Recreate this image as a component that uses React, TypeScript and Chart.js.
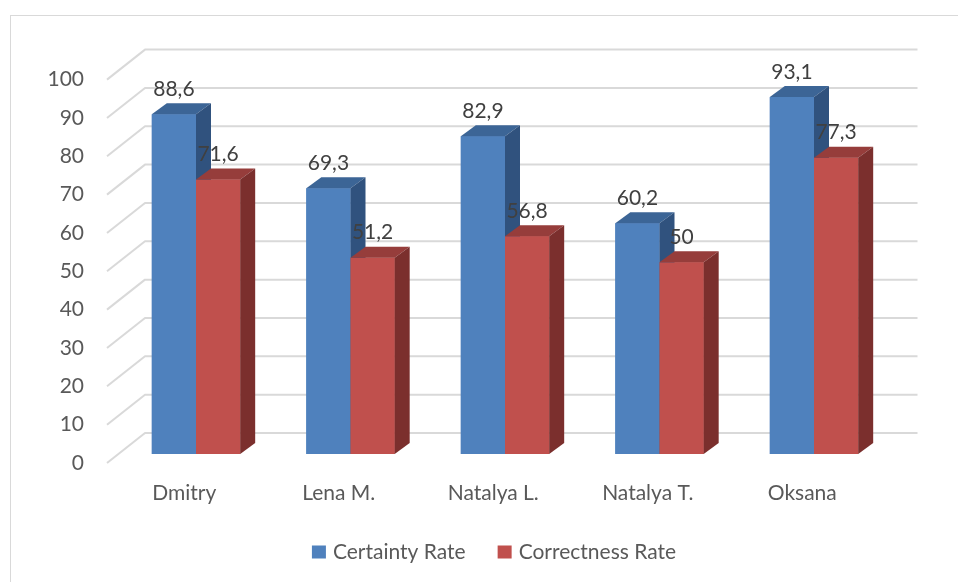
import { useEffect, useRef } from 'react';
import { Chart, registerables } from 'chart.js';

Chart.register(...registerables);

const categories = ['Dmitry', 'Lena M.', 'Natalya L.', 'Natalya T.', 'Oksana'];
const certaintyRate = [88.6, 69.3, 82.9, 60.2, 93.1];
const correctnessRate = [71.6, 51.2, 56.8, 50, 77.3];
const seriesNames = ['Certainty Rate', 'Correctness Rate'];
const yMin = 0;
const yMax = 100;
const yStep = 10;

const FONT = 'Lato, "Open Sans", "Noto Sans", sans-serif';
const FONT_SIZE = 21;
const AXIS_TEXT = '#595959';
const LABEL_TEXT = '#404040';
const GRID = '#D9D9D9';
const FRONT = ['#4F81BD', '#C0504D'];
const TOP = ['#3C6596', '#963D3B'];
const SIDE = ['#30527E', '#7B2F2D'];

// 3D geometry (oblique projection offsets)
const DEPTH_DX = 15;
const DEPTH_DY = 11;
const FRONT_DX = 11.75;
const FRONT_DY = 9;
const BACK_DX = 26.25;
const BACK_DY = 21;

const fmt = (v: number) => String(v).replace('.', ',');

const threeD = {
  id: 'threeD',
  beforeDraw(chart: any) {
    const ctx = chart.ctx;
    ctx.save();
    ctx.fillStyle = '#ffffff';
    ctx.fillRect(0, 0, chart.width, chart.height);
    ctx.strokeStyle = GRID;
    ctx.lineWidth = 1;
    ctx.strokeRect(10.5, 15.5, chart.width + 40, chart.height + 40);
    ctx.restore();
  },
  beforeDatasetsDraw(chart: any) {
    const { ctx, chartArea } = chart;
    const y = chart.scales.y;
    ctx.save();
    ctx.strokeStyle = GRID;
    ctx.lineWidth = 2;
    ctx.lineJoin = 'round';
    y.ticks.forEach((t: any) => {
      const py = y.getPixelForValue(t.value);
      ctx.beginPath();
      ctx.moveTo(chartArea.left - FRONT_DX, py + FRONT_DY);
      ctx.lineTo(chartArea.left + BACK_DX, py - BACK_DY);
      ctx.lineTo(chartArea.right + BACK_DX, py - BACK_DY);
      ctx.stroke();
    });
    ctx.restore();
  },
  afterDatasetsDraw(chart: any) {
    const ctx = chart.ctx;
    const metas = chart.data.datasets.map((_: any, i: number) => chart.getDatasetMeta(i));
    const n = chart.data.labels.length;
    ctx.save();
    for (let i = 0; i < n; i++) {
      metas.forEach((meta: any, d: number) => {
        const bar = meta.data[i];
        if (!bar) return;
        const { x, y, base, width } = bar.getProps(['x', 'y', 'base', 'width'], true);
        const l = x - width / 2;
        const r = x + width / 2;
        ctx.fillStyle = FRONT[d];
        ctx.fillRect(l, y, width, base - y);
        ctx.beginPath();
        ctx.moveTo(l, y);
        ctx.lineTo(r, y);
        ctx.lineTo(r + DEPTH_DX, y - DEPTH_DY);
        ctx.lineTo(l + DEPTH_DX, y - DEPTH_DY);
        ctx.closePath();
        ctx.fillStyle = TOP[d];
        ctx.fill();
        ctx.beginPath();
        ctx.moveTo(r, y);
        ctx.lineTo(r + DEPTH_DX, y - DEPTH_DY);
        ctx.lineTo(r + DEPTH_DX, base - DEPTH_DY);
        ctx.lineTo(r, base);
        ctx.closePath();
        ctx.fillStyle = SIDE[d];
        ctx.fill();
      });
    }
    ctx.font = `${FONT_SIZE}px ${FONT}`;
    ctx.fillStyle = LABEL_TEXT;
    ctx.textAlign = 'center';
    ctx.textBaseline = 'middle';
    metas.forEach((meta: any, d: number) => {
      const values = chart.data.datasets[d].data;
      meta.data.forEach((bar: any, i: number) => {
        const { x, y } = bar.getProps(['x', 'y'], true);
        ctx.fillText(fmt(values[i]), x, y - 25);
      });
    });
    ctx.restore();
  },
  afterDraw(chart: any) {
    const ctx = chart.ctx;
    ctx.save();
    ctx.font = `${FONT_SIZE}px ${FONT}`;
    ctx.textBaseline = 'middle';
    ctx.textAlign = 'left';
    const boxW = 14;
    const boxH = 13;
    const boxGap = 7;
    const itemGap = 32;
    const widths = seriesNames.map((s) => boxW + boxGap + ctx.measureText(s).width);
    const total = widths.reduce((a, b) => a + b, 0) + itemGap * (widths.length - 1);
    let x = 494 - total / 2;
    const cy = 552;
    seriesNames.forEach((s, i) => {
      ctx.fillStyle = FRONT[i];
      ctx.fillRect(x, cy - boxH / 2, boxW, boxH);
      ctx.fillStyle = AXIS_TEXT;
      ctx.fillText(s, x + boxW + boxGap, cy);
      x += widths[i] + itemGap;
    });
    ctx.restore();
  },
};

export default function App() {
  const ref = useRef<HTMLCanvasElement | null>(null);
  useEffect(() => {
    if (!ref.current) return;
    const chart = new Chart(ref.current, {
      type: 'bar',
      data: {
        labels: categories,
        datasets: [
          { label: seriesNames[0], data: certaintyRate, backgroundColor: FRONT[0], borderWidth: 0 },
          { label: seriesNames[1], data: correctnessRate, backgroundColor: FRONT[1], borderWidth: 0 },
        ],
      },
      options: {
        responsive: false,
        animation: false,
        devicePixelRatio: 1,
        layout: { padding: { left: 28.75, right: 66.75, top: 70.6, bottom: 58 } },
        datasets: { bar: { categoryPercentage: 0.572, barPercentage: 1 } },
        plugins: {
          legend: { display: false },
          tooltip: { enabled: false },
        },
        scales: {
          x: {
            grid: { display: false, drawTicks: false },
            border: { display: false },
            ticks: {
              color: AXIS_TEXT,
              font: { family: FONT, size: FONT_SIZE },
              padding: 27,
              labelOffset: -FRONT_DX,
              maxRotation: 0,
            },
            afterFit: (s: any) => { s.height = 70; },
          },
          y: {
            min: yMin,
            max: yMax,
            grid: { display: false, drawTicks: false },
            border: { display: false },
            ticks: {
              stepSize: yStep,
              color: AXIS_TEXT,
              font: { family: FONT, size: FONT_SIZE },
              padding: 34.75,
              labelOffset: FRONT_DY,
            },
            afterFit: (s: any) => { s.width = 90; },
          },
        },
      },
      plugins: [threeD],
    });
    return () => chart.destroy();
  }, []);
  return (
    <div style={{ position: 'absolute', left: 0, top: 0, width: 958, height: 582 }}>
      <canvas ref={ref} width={958} height={582} style={{ display: 'block' }} />
    </div>
  );
}
